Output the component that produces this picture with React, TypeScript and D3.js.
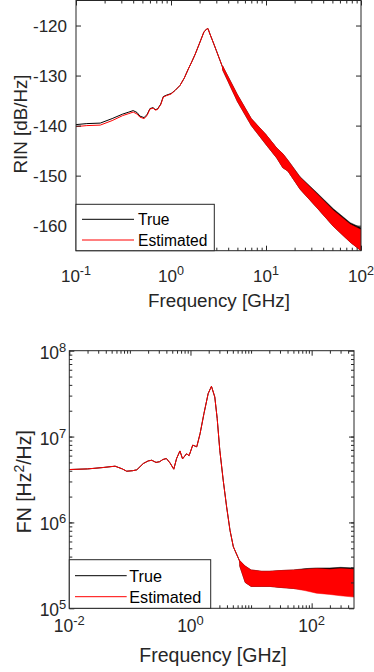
import { useEffect, useRef } from 'react';
import * as d3 from 'd3';

// ---- RIN panel (dB/Hz vs GHz) ----
const rinFreq = [
  0.1, 0.13, 0.18, 0.24, 0.31, 0.36, 0.4, 0.44, 0.47, 0.52, 0.56, 0.6, 0.65, 0.68, 0.72, 0.78, 0.83,
  0.9, 1.0, 1.1, 1.24, 1.38, 1.52, 1.65, 1.8, 2.02, 2.22, 2.37, 2.45, 2.57, 2.8, 3.0, 3.55, 4.5, 5.7,
  7.3, 10, 15, 22.8, 34.3, 51, 77, 100,
];
const rinTrue = [
  -139.8, -139.6, -139.5, -138.6, -137.7, -137.3, -137.0, -137.4, -138.1, -138.4, -137.8, -136.6,
  -136.4, -136.8, -136.7, -135.7, -134.2, -133.9, -133.6, -133.0, -132.0, -130.5, -128.7, -127.3,
  -125.7, -123.3, -121.3, -120.7, -120.6, -121.7, -123.5, -125.0, -128.7, -132.7, -136.7, -139.7,
  -142.3, -147.0, -151.0, -154.3, -157.7, -161.0, -163.0,
];
const rinEst = [
  -140.2, -140.0, -139.9, -139.0, -138.0, -137.6, -137.3, -137.7, -138.3, -138.6, -138.0, -136.7,
  -136.5, -136.9, -136.8, -135.8, -134.3, -134.0, -133.7, -133.0, -132.0, -130.5, -128.7, -127.3,
  -125.7, -123.3, -121.3, -120.7, -120.6, -121.7, -123.5, -125.0, -128.7, -132.7, -136.7, -139.7,
  -142.3, -147.0, -151.0, -154.3, -157.7, -161.0, -163.0,
];
// noisy high-frequency part: lower / upper edges of the band
const rinBandFreq = [3.5, 5, 7, 10, 13, 15, 17, 22.8, 34.3, 51, 77, 100];
const rinTrueLo = [-128.9, -135.2, -140.0, -143.8, -146.5, -148.4, -149.1, -152.7, -156.4, -160.1, -163.3, -165];
const rinTrueHi = [-128.1, -133.8, -138.6, -141.8, -144.5, -145.6, -146.9, -150.2, -153.4, -156.6, -159.4, -160.4];
const rinEstLo = [-128.9, -135.2, -140.0, -143.8, -146.5, -148.4, -149.1, -152.7, -156.4, -160.1, -163.3, -165];
const rinEstHi = [-128.1, -133.8, -138.6, -141.8, -144.5, -145.6, -146.9, -150.3, -153.6, -156.9, -159.7, -160.8];
const rinYTicks = [-160, -150, -140, -130, -120];
const rinXTicks = [0.1, 1, 10, 100];

// ---- FN panel (Hz^2/Hz vs GHz) ----
const fnFreq = [
  0.01, 0.02, 0.035, 0.057, 0.075, 0.0885, 0.11, 0.13, 0.166, 0.2, 0.229, 0.27, 0.31, 0.35, 0.4, 0.46,
  0.53, 0.59, 0.67, 0.74, 0.86, 0.95, 1.09, 1.27, 1.44, 1.67, 1.96, 2.22, 2.52, 2.76, 3.05, 3.47, 3.95,
  4.49, 5.1, 6.2, 7.5, 10, 20, 50, 100, 200, 500,
];
const fnTrue = [
  4.13e6, 4.2e6, 4.35e6, 4.52e6, 4.2e6, 3.95e6, 4.0e6, 4.1e6, 4.85e6, 5.2e6, 5.3e6, 5.0e6, 5.1e6,
  5.4e6, 5.55e6, 4.93e6, 4.17e6, 5.55e6, 6.8e6, 5.5e6, 6.3e6, 6.0e6, 7.95e6, 7.6e6, 1.08e7, 1.86e7,
  3.17e7, 3.85e7, 2.89e7, 1.62e7, 6.9e6, 3.1e6, 1.52e6, 8.1e5, 5.2e5, 3.8e5, 2.8e5, 2.3e5, 2.3e5,
  2.3e5, 2.35e5, 2.4e5, 2.4e5,
];
const fnEst = [
  4.13e6, 4.2e6, 4.35e6, 4.52e6, 4.2e6, 3.95e6, 4.0e6, 4.1e6, 4.85e6, 5.2e6, 5.3e6, 5.0e6, 5.1e6,
  5.4e6, 5.55e6, 4.93e6, 4.17e6, 5.55e6, 6.8e6, 5.5e6, 6.3e6, 6.0e6, 7.95e6, 7.6e6, 1.08e7, 1.86e7,
  3.17e7, 3.85e7, 2.89e7, 1.62e7, 6.9e6, 3.1e6, 1.52e6, 8.1e5, 5.2e5, 3.8e5, 2.8e5, 2.3e5, 2.3e5,
  2.25e5, 2.15e5, 2.1e5, 2.05e5,
];
const fnBandFreq = [6.5, 8, 10, 15, 20, 30, 50, 80, 120, 200, 300, 500];
const fnTrueLo = [3.1e5, 2.0e5, 1.8e5, 1.8e5, 1.8e5, 1.75e5, 1.7e5, 1.65e5, 1.6e5, 1.6e5, 1.65e5, 1.7e5];
const fnTrueHi = [3.6e5, 3.1e5, 2.8e5, 2.7e5, 2.7e5, 2.75e5, 2.8e5, 2.9e5, 2.95e5, 2.95e5, 3.0e5, 2.95e5];
const fnEstLo = [3.1e5, 2.0e5, 1.8e5, 1.8e5, 1.8e5, 1.75e5, 1.7e5, 1.6e5, 1.5e5, 1.45e5, 1.4e5, 1.35e5];
const fnEstHi = [3.6e5, 3.1e5, 2.8e5, 2.7e5, 2.7e5, 2.75e5, 2.8e5, 2.85e5, 2.9e5, 2.85e5, 2.9e5, 2.85e5];
const fnYTicks = [1e5, 1e6, 1e7, 1e8];
const fnXTicks = [0.01, 1, 100];

const legendLabels = ['True', 'Estimated'];
const seriesColors = ['#000000', '#ff0000'];

const AXIS = '#262626';
const FONT = '"Liberation Sans", Arial, Helvetica, sans-serif';

function logMinor(lo: number, hi: number) {
  const out: number[] = [];
  for (let e = Math.floor(Math.log10(lo)); e <= Math.ceil(Math.log10(hi)); e++) {
    for (let m = 1; m <= 9; m++) {
      const v = m * 10 ** e;
      if (v > lo * 1.0001 && v < hi * 0.9999) out.push(v);
    }
  }
  return out;
}

interface PanelOpts {
  id: string;
  box: { left: number; right: number; top: number; bottom: number };
  xDomain: [number, number];
  yDomain: [number, number];
  yLog: boolean;
  xTicks: number[];
  yTicks: number[];
  yMinor: number[];
  freq: number[];
  series: number[][];
  bandFreq: number[];
  bandLo: number[][];
  bandHi: number[][];
  tickFont: number;
  labelFont: number;
  legendFont: number;
  xTickBaseline: number;
  yTickGap: number;
  yTickDy: number;
  xLabelX: number;
  xLabelY: number;
  yLabelX: number;
  yLabelY: number;
  yLabel: (t: d3.Selection<SVGTextElement, unknown, null, undefined>) => void;
  legend: { x0: number; x1: number; y0: number; y1: number; lineX0: number; lineX1: number; textX: number; rows: number[] };
}

function drawPanel(svg: d3.Selection<SVGSVGElement, unknown, null, undefined>, o: PanelOpts) {
  const { left, right, top, bottom } = o.box;
  const x = d3.scaleLog().domain(o.xDomain).range([left, right]);
  const y = (o.yLog ? d3.scaleLog() : d3.scaleLinear()).domain(o.yDomain).range([bottom, top]);

  svg
    .append('clipPath')
    .attr('id', o.id)
    .append('rect')
    .attr('x', left)
    .attr('y', top)
    .attr('width', right - left)
    .attr('height', bottom - top);

  const plot = svg.append('g').attr('clip-path', `url(#${o.id})`);

  o.series.forEach((vals, i) => {
    const pts = o.freq.map((f, k) => [f, vals[k]] as [number, number]);
    plot
      .append('path')
      .attr('d', d3.line<[number, number]>().x((d) => x(d[0])).y((d) => y(d[1]))(pts))
      .attr('fill', 'none')
      .attr('stroke', seriesColors[i])
      .attr('stroke-width', 1);

    const band = o.bandFreq.map((f, k) => ({ f, lo: o.bandLo[i][k], hi: o.bandHi[i][k] }));
    plot
      .append('path')
      .attr(
        'd',
        d3
          .area<{ f: number; lo: number; hi: number }>()
          .x((d) => x(d.f))
          .y0((d) => y(d.lo))
          .y1((d) => y(d.hi))(band)
      )
      .attr('fill', seriesColors[i])
      .attr('stroke', seriesColors[i])
      .attr('stroke-width', 0.5);
  });

  // box
  svg
    .append('rect')
    .attr('x', left)
    .attr('y', top)
    .attr('width', right - left)
    .attr('height', bottom - top)
    .attr('fill', 'none')
    .attr('stroke', AXIS)
    .attr('stroke-width', 1);

  // inward ticks on all four sides
  const tickAxis = (axis: d3.Axis<d3.NumberValue>, tx: number, ty: number) => {
    const g = svg.append('g').attr('transform', `translate(${tx},${ty})`).call(axis);
    g.select('.domain').remove();
    g.selectAll('line').attr('stroke', AXIS);
    g.selectAll('text').remove();
  };
  const xMinor = logMinor(o.xDomain[0], o.xDomain[1]).filter((v) => !o.xTicks.includes(v));
  tickAxis(d3.axisBottom(x).tickValues(o.xTicks).tickSize(-5), 0, bottom);
  tickAxis(d3.axisTop(x).tickValues(o.xTicks).tickSize(-5), 0, top);
  tickAxis(d3.axisBottom(x).tickValues(xMinor).tickSize(-3), 0, bottom);
  tickAxis(d3.axisTop(x).tickValues(xMinor).tickSize(-3), 0, top);
  tickAxis(d3.axisLeft(y).tickValues(o.yTicks).tickSize(-5), left, 0);
  tickAxis(d3.axisRight(y).tickValues(o.yTicks).tickSize(-5), right, 0);
  if (o.yMinor.length) {
    tickAxis(d3.axisLeft(y).tickValues(o.yMinor).tickSize(-3), left, 0);
    tickAxis(d3.axisRight(y).tickValues(o.yMinor).tickSize(-3), right, 0);
  }

  // x tick labels (10^n)
  o.xTicks.forEach((v) => {
    const t = svg
      .append('text')
      .attr('x', x(v))
      .attr('y', o.xTickBaseline)
      .attr('text-anchor', 'middle')
      .attr('font-family', FONT)
      .attr('font-size', o.tickFont)
      .attr('fill', AXIS)
      .text('10');
    t.append('tspan').attr('dy', -7).attr('font-size', o.tickFont * 0.74).text(String(Math.round(Math.log10(v))));
  });

  // y tick labels
  o.yTicks.forEach((v) => {
    const t = svg
      .append('text')
      .attr('x', left - o.yTickGap)
      .attr('y', y(v) + o.yTickDy)
      .attr('text-anchor', 'end')
      .attr('font-family', FONT)
      .attr('font-size', o.tickFont)
      .attr('fill', AXIS);
    if (o.yLog) {
      t.text('10');
      t.append('tspan').attr('dy', -7).attr('font-size', o.tickFont * 0.74).text(String(Math.round(Math.log10(v))));
    } else {
      t.text(String(v));
    }
  });

  svg
    .append('text')
    .attr('x', o.xLabelX)
    .attr('y', o.xLabelY)
    .attr('text-anchor', 'middle')
    .attr('font-family', FONT)
    .attr('font-size', o.labelFont)
    .attr('fill', AXIS)
    .text('Frequency [GHz]');

  const yl = svg
    .append('text')
    .attr('transform', `translate(${o.yLabelX},${o.yLabelY}) rotate(-90)`)
    .attr('text-anchor', 'middle')
    .attr('font-family', FONT)
    .attr('font-size', o.labelFont)
    .attr('fill', AXIS);
  o.yLabel(yl);

  // legend
  const L = o.legend;
  svg
    .append('rect')
    .attr('x', L.x0)
    .attr('y', L.y0)
    .attr('width', L.x1 - L.x0)
    .attr('height', L.y1 - L.y0)
    .attr('fill', '#ffffff')
    .attr('stroke', AXIS)
    .attr('stroke-width', 1);
  legendLabels.forEach((name, i) => {
    svg
      .append('line')
      .attr('x1', L.lineX0)
      .attr('x2', L.lineX1)
      .attr('y1', L.rows[i])
      .attr('y2', L.rows[i])
      .attr('stroke', seriesColors[i])
      .attr('stroke-width', 1);
    svg
      .append('text')
      .attr('x', L.textX)
      .attr('y', L.rows[i] + o.legendFont * 0.36)
      .attr('font-family', FONT)
      .attr('font-size', o.legendFont)
      .attr('fill', '#000000')
      .text(name);
  });
}

export default function App() {
  const svgRef = useRef<SVGSVGElement>(null);

  useEffect(() => {
    if (!svgRef.current) return;
    const svg = d3.select(svgRef.current);
    svg.selectAll('*').remove();

    drawPanel(svg, {
      id: 'clip-rin',
      box: { left: 76, right: 361, top: 0.5, bottom: 250.7 },
      xDomain: [0.1, 100],
      yDomain: [-165, -115],
      yLog: false,
      xTicks: rinXTicks,
      yTicks: rinYTicks,
      yMinor: [],
      freq: rinFreq,
      series: [rinTrue, rinEst],
      bandFreq: rinBandFreq,
      bandLo: [rinTrueLo, rinEstLo],
      bandHi: [rinTrueHi, rinEstHi],
      tickFont: 17,
      labelFont: 18.8,
      legendFont: 15.6,
      xTickBaseline: 281.7,
      yTickGap: 9,
      yTickDy: 6.5,
      xLabelX: 219,
      xLabelY: 306.5,
      yLabelX: 27,
      yLabelY: 124,
      yLabel: (t) => t.text('RIN [dB/Hz]'),
      legend: { x0: 76, x1: 214.3, y0: 204.3, y1: 250.7, lineX0: 82, lineX1: 134, textX: 138, rows: [219.3, 240] },
    });

    drawPanel(svg, {
      id: 'clip-fn',
      box: { left: 69.3, right: 354, top: 350.7, bottom: 608.3 },
      xDomain: [0.01, 500],
      yDomain: [1e5, 1e8],
      yLog: true,
      xTicks: fnXTicks,
      yTicks: fnYTicks,
      yMinor: logMinor(1e5, 1e8),
      freq: fnFreq,
      series: [fnTrue, fnEst],
      bandFreq: fnBandFreq,
      bandLo: [fnTrueLo, fnEstLo],
      bandHi: [fnTrueHi, fnEstHi],
      tickFont: 17.5,
      labelFont: 19.5,
      legendFont: 16.2,
      xTickBaseline: 631.7,
      yTickGap: 3,
      yTickDy: 8,
      xLabelX: 213,
      xLabelY: 661.5,
      yLabelX: 31,
      yLabelY: 481.7,
      yLabel: (t) => {
        t.append('tspan').text('FN [Hz');
        t.append('tspan').attr('dy', -7).attr('font-size', 14).text('2');
        t.append('tspan').attr('dy', 7).text('/Hz]');
      },
      legend: { x0: 69.3, x1: 210.7, y0: 559.7, y1: 608.3, lineX0: 75, lineX1: 126.7, textX: 129.3, rows: [575.7, 596.7] },
    });

    return () => {
      svg.selectAll('*').remove();
    };
  }, []);

  return (
    <svg
      ref={svgRef}
      width={374}
      height={672}
      viewBox="0 0 374 672"
      style={{ position: 'absolute', left: 0, top: 0, background: '#ffffff' }}
    />
  );
}
